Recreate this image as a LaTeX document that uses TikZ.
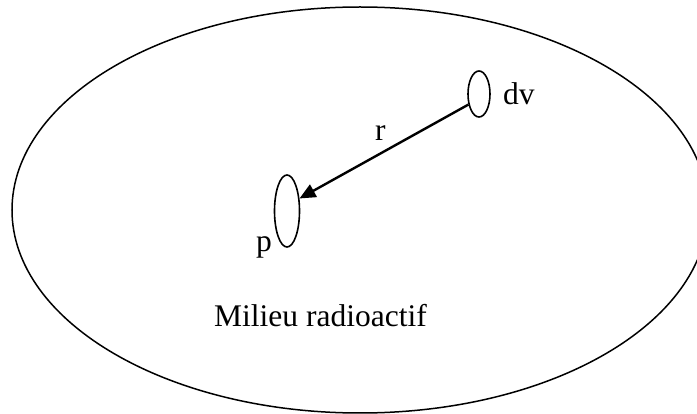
\documentclass[tikz,border=0pt]{standalone}
\usepackage{fontspec}
\setmainfont{Liberation Serif}
\usetikzlibrary{shapes.geometric,arrows.meta}
\begin{document}
\begin{tikzpicture}[x=1pt,y=-1pt,
  lbl/.style={inner sep=0pt,anchor=base west,font=\fontsize{31.5}{38}\selectfont},
  small/.style={ellipse,draw,line width=1.6pt,inner sep=0pt},
  vec/.style={line width=2.4pt,-{Triangle[length=16pt,width=14pt]}}]
\useasboundingbox (0,0) rectangle (697,414);
\clip (0,0) rectangle (697,414);
\node[ellipse,draw,line width=1.5pt,inner sep=0pt,minimum width=696pt,minimum height=406pt] (medium) at (360,210) {};
\node[small,minimum width=22pt,minimum height=46pt] (dvE) at (479,94) {};
\node[small,minimum width=25pt,minimum height=72pt] (pE) at (287,211) {};
\draw[vec] (dvE.225) -- (pE.45);
\node[lbl] (dv) at (503,105) {dv};
\node[lbl] (r) at (375,141) {r};
\node[lbl] (p) at (256,252) {p};
\node[lbl] (mil) at (214,327) {Milieu radioactif};
\end{tikzpicture}
\end{document}
